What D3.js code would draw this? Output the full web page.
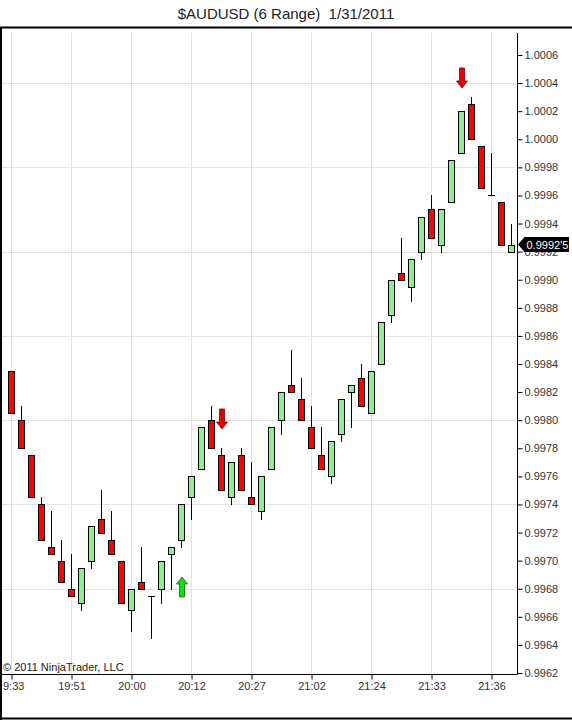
<!DOCTYPE html>
<html><head><meta charset="utf-8">
<script src="https://cdn.jsdelivr.net/npm/d3@7"></script>
<style>html,body{margin:0;padding:0;background:#fff;}svg{display:block;}</style>
</head><body>
<script>
const opens  = [0.99835,0.9980,0.99775,0.9974,0.9971,0.9970,0.9968,0.9967,0.9970,0.9973,0.99715,0.9970,0.99665,0.99685,0.99675,0.9968,0.99705,0.99715,0.99745,0.99765,0.9980,0.99775,0.99745,0.99775,0.99745,0.99735,0.99765,0.9980,0.99825,0.99815,0.99795,0.99775,0.9976,0.9979,0.9982,0.9983,0.99805,0.9984,0.99875,0.99905,0.99895,0.9992,0.9995,0.99925,0.99955,0.9999,1.00025,0.99995,0.9996,0.99955,0.9992];
const highs  = [0.99835,0.9981,0.99775,0.99745,0.99735,0.99715,0.99705,0.99695,0.99725,0.9975,0.99735,0.9970,0.9968,0.9971,0.99675,0.9970,0.9971,0.9974,0.9976,0.99795,0.9981,0.9978,0.9977,0.9978,0.9977,0.9976,0.99795,0.9982,0.9985,0.9983,0.9981,0.99795,0.99785,0.99815,0.99825,0.9984,0.99835,0.9987,0.9990,0.9993,0.99915,0.99945,0.9996,0.9995,0.99985,1.0002,1.0003,0.99995,0.9999,0.99955,0.9994];
const lows   = [0.99805,0.9978,0.99745,0.99715,0.99705,0.99685,0.99675,0.99665,0.99695,0.9972,0.99705,0.9967,0.9965,0.9968,0.99645,0.9967,0.9968,0.9971,0.9973,0.99765,0.9978,0.9975,0.9974,0.9975,0.9974,0.9973,0.99765,0.9979,0.9982,0.9980,0.9978,0.99765,0.99755,0.99785,0.99795,0.9981,0.99805,0.9984,0.9987,0.9990,0.99885,0.99915,0.9993,0.9992,0.99955,0.9999,1.0000,0.99965,0.9996,0.99925,0.9992];
const closes = [0.99805,0.9978,0.99745,0.99715,0.99705,0.99685,0.99675,0.99695,0.99725,0.9972,0.99705,0.9967,0.9968,0.9968,0.99675,0.9970,0.9971,0.9974,0.9976,0.99795,0.9978,0.9975,0.9977,0.9975,0.9974,0.9976,0.99795,0.9982,0.9982,0.9980,0.9978,0.99765,0.99785,0.99815,0.99825,0.9981,0.99835,0.9987,0.9990,0.9990,0.99915,0.99945,0.9993,0.9995,0.99985,1.0002,1.0000,0.99965,0.9996,0.99925,0.99925];
const timeTickIdx   = [0,6,12,18,24,30,36,42,48];
const timeTickLabel = ["9:33","19:51","20:00","20:12","20:27","21:02","21:24","21:33","21:36"];
const priceTicks = [0.9962,0.9964,0.9966,0.9968,0.9970,0.9972,0.9974,0.9976,0.9978,0.9980,0.9982,0.9984,0.9986,0.9988,0.9990,0.9992,0.9994,0.9996,0.9998,1.0000,1.0002,1.0004,1.0006];
const gridPrices = [0.9968,0.9974,0.9980,0.9986,0.9992,0.9998,1.0004];
const signalIdx   = [17,21,45];
const signalDir   = ["up","down","down"];
const signalPrice = [0.99688,0.99794,1.000365];
const lastPriceLabel = "0.9992'5";
const titleText = "$AUDUSD (6 Range)  1/31/2011";
const copyrightText = "\u00A9 2011 NinjaTrader, LLC";

const W = 572, H = 720;
const svg = d3.select("body").append("svg").attr("width", W).attr("height", H)
  .style("font-family", "'Liberation Sans', Arial, sans-serif");
svg.append("rect").attr("width", W).attr("height", H).attr("fill", "#fff");

const x = d3.scaleLinear().domain([0, 50]).range([11.5, 511.5]);
const y = d3.scaleLinear().domain([0.9962, 1.0006]).range([673, 55]);
const py = v => Math.round(y(v)) + 0.5;

const plotL = 1, plotR = 517.5, plotT = 33, plotB = 674.5;

// title
svg.append("text").attr("x", 286).attr("y", 19).attr("text-anchor", "middle")
  .attr("font-size", 15).attr("fill", "#222").style("white-space", "pre").text(titleText);

// frame
svg.append("path").attr("d", `M1,${H} L1,27.5 L${W},27.5`).attr("fill", "none").attr("stroke", "#000").attr("stroke-width", 2);
svg.append("line").attr("x1", 0).attr("x2", W).attr("y1", 718.5).attr("y2", 718.5).attr("stroke", "#000").attr("stroke-width", 2);

// grid
const g = svg.append("g");
g.selectAll(".vg").data(timeTickIdx).enter().append("line")
  .attr("x1", d => x(d)).attr("x2", d => x(d)).attr("y1", plotT).attr("y2", plotB)
  .attr("stroke", "#e2e2e2").attr("stroke-width", 1);
g.selectAll(".hg").data(gridPrices).enter().append("line")
  .attr("x1", 2).attr("x2", plotR).attr("y1", d => py(d)).attr("y2", d => py(d))
  .attr("stroke", "#e2e2e2").attr("stroke-width", 1);

// copyright
svg.append("text").attr("x", 3).attr("y", 671).attr("font-size", 11).attr("fill", "#222").text(copyrightText);

// candles
const bars = d3.range(opens.length).map(i => ({i, o: opens[i], h: highs[i], l: lows[i], c: closes[i]}));
const cg = svg.append("g");
cg.selectAll(".wick").data(bars).enter().append("line")
  .attr("x1", d => x(d.i)).attr("x2", d => x(d.i))
  .attr("y1", d => Math.round(y(d.h))).attr("y2", d => Math.round(y(d.l)) + 1)
  .attr("stroke", "#000").attr("stroke-width", 1);
cg.selectAll(".body").data(bars.filter(d => d.o !== d.c)).enter().append("rect")
  .attr("x", d => x(d.i) - 3).attr("width", 6)
  .attr("y", d => py(Math.max(d.o, d.c)))
  .attr("height", d => py(Math.min(d.o, d.c)) - py(Math.max(d.o, d.c)))
  .attr("fill", d => d.c > d.o ? "#90ee90" : "#ff0000")
  .attr("stroke", "#000").attr("stroke-width", 1);
cg.selectAll(".doji").data(bars.filter(d => d.o === d.c)).enter().append("line")
  .attr("x1", d => x(d.i) - 3.5).attr("x2", d => x(d.i) + 3.5)
  .attr("y1", d => py(d.o)).attr("y2", d => py(d.o))
  .attr("stroke", "#000").attr("stroke-width", 1);

// signal arrows
const arrows = signalIdx.map((idx, k) => ({idx, dir: signalDir[k], p: signalPrice[k]}));
svg.selectAll(".arrow").data(arrows).enter().append("path")
  .attr("d", d => {
    const cx = x(d.idx) + 0.5, ty = Math.round(y(d.p));
    const s = d.dir === "up" ? 1 : -1;
    const hy = ty + s * 7, by = ty + s * 20;
    return `M${cx},${ty} L${cx + 5.5},${hy} L${cx + 2.5},${hy} L${cx + 2.5},${by} L${cx - 2.5},${by} L${cx - 2.5},${hy} L${cx - 5.5},${hy} Z`;
  })
  .attr("fill", d => d.dir === "up" ? "#10e010" : "#e00000")
  .attr("stroke", d => d.dir === "up" ? "#0a6a0a" : "#8a0000").attr("stroke-width", 0.8);

// axes
const yAxis = d3.axisRight(y).tickValues(priceTicks).tickFormat(d3.format(".4f")).tickSize(5).tickPadding(2);
const ya = svg.append("g").attr("transform", `translate(${plotR},0)`).call(yAxis);
ya.select(".domain").remove();
ya.selectAll(".tick line").attr("stroke", "#000");
ya.selectAll(".tick text").attr("font-size", 11).attr("fill", "#333").attr("font-family", "'Liberation Sans', Arial, sans-serif");
svg.append("line").attr("x1", plotR).attr("x2", plotR).attr("y1", plotT).attr("y2", plotB).attr("stroke", "#000");

const xAxis = d3.axisBottom(x).tickValues(timeTickIdx).tickFormat((d, k) => timeTickLabel[k]).tickSize(5).tickPadding(3);
const xa = svg.append("g").attr("transform", `translate(0,${plotB})`).call(xAxis);
xa.select(".domain").remove();
xa.selectAll(".tick line").attr("stroke", "#000");
xa.selectAll(".tick text").attr("font-size", 11).attr("fill", "#333").attr("font-family", "'Liberation Sans', Arial, sans-serif");
xa.selectAll(".tick text").filter((d, k) => k === 0).attr("text-anchor", "start").attr("x", -9);
svg.append("line").attr("x1", 0).attr("x2", plotR).attr("y1", plotB).attr("y2", plotB).attr("stroke", "#000");

// last price tag
const lastY = y(closes[closes.length - 1]);
const tag = svg.append("g");
tag.append("path")
  .attr("d", `M${plotR + 0.5},${lastY} L${plotR + 7},${lastY - 7.5} L${W - 3},${lastY - 7.5} L${W - 3},${lastY + 7.5} L${plotR + 7},${lastY + 7.5} Z`)
  .attr("fill", "#000");
tag.append("text").attr("x", plotR + 9).attr("y", lastY + 4).attr("font-size", 11).attr("fill", "#fff").text(lastPriceLabel);
</script>
</body></html>
